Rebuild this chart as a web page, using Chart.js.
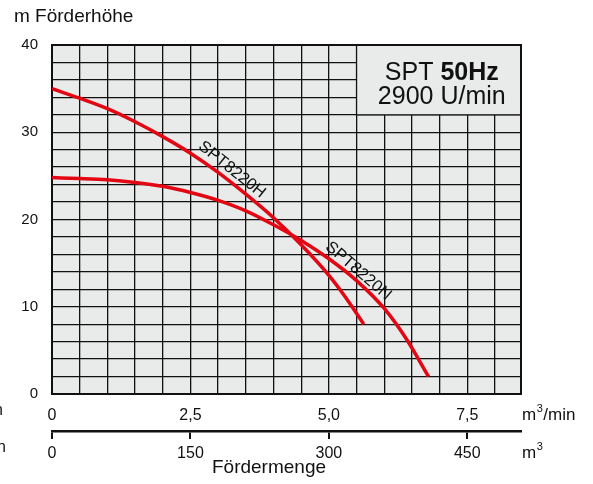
<!DOCTYPE html>
<html>
<head>
    <title>SPT 50Hz Kennlinie</title>
    <script src="https://cdn.jsdelivr.net/npm/chart.js"></script>
    <style>
        body { margin: 0; background: #fff; }
    </style>
</head>
<body>
    <canvas id="pumpChart" width="593" height="484"></canvas>
    <script>
        // Kennlinien (Förderstrom m3/min -> Förderhöhe m)
        var flowH = [0, 0.5, 1.0, 1.5, 2.0, 2.5, 3.0, 3.5, 4.0, 4.5, 5.0, 5.3, 5.63];
        var headH = [35.0, 33.9, 32.7, 31.2, 29.5, 27.6, 25.4, 22.9, 20.2, 17.1, 13.6, 11.1, 8.0];
        var flowN = [0, 0.5, 1.0, 1.5, 2.0, 2.5, 3.0, 3.5, 4.0, 4.5, 5.0, 5.5, 6.0, 6.4, 6.8];
        var headN = [24.8, 24.7, 24.55, 24.25, 23.8, 23.1, 22.2, 21.0, 19.4, 17.6, 15.5, 13.0, 9.8, 6.3, 2.0];

        var minLabels = { 0: '0', 2.5: '2,5', 5: '5,0', 7.5: '7,5' };
        var headLabels = [0, 10, 20, 30, 40];
        var curveNames = ['SPT8220H', 'SPT8220N'];

        var red = '#e30613';
        var font = "'Liberation Sans', Arial, sans-serif";

        function points(xs, ys) {
            return xs.map(function(x, i) { return { x: x, y: ys[i] }; });
        }

        // Einheit mit hochgestellter 3
        function unit(ctx, tail, x, y) {
            ctx.font = '17px ' + font;
            ctx.fillText('m', x, y);
            var w = ctx.measureText('m').width;
            ctx.font = '11px ' + font;
            ctx.fillText('3', x + w + 0.5, y - 6);
            var w3 = ctx.measureText('3').width;
            if (tail) {
                ctx.font = '17px ' + font;
                ctx.fillText(tail, x + w + w3 + 1, y);
            }
        }

        // Hintergrund, Rahmen, Infokasten und Texte
        var decor = {
            id: 'decor',
            beforeDraw: function(chart) {
                var a = chart.chartArea, ctx = chart.ctx;
                ctx.save();
                ctx.fillStyle = '#e9ebea';
                ctx.fillRect(a.left, a.top, a.right - a.left, a.bottom - a.top);
                ctx.restore();
            },
            beforeDatasetsDraw: function(chart) {
                var a = chart.chartArea, ctx = chart.ctx;
                var xs = chart.scales.x, ys = chart.scales.y;
                var bx = xs.getPixelForValue(5.5), by = ys.getPixelForValue(32);
                ctx.save();
                ctx.fillStyle = '#e9ebea';
                ctx.fillRect(bx, a.top, a.right - bx, by - a.top);
                ctx.strokeStyle = '#111';
                ctx.lineWidth = 1.3;
                ctx.beginPath();
                ctx.moveTo(bx, a.top);
                ctx.lineTo(bx, by);
                ctx.lineTo(a.right, by);
                ctx.stroke();
                ctx.lineWidth = 2;
                ctx.strokeRect(a.left, a.top, a.right - a.left, a.bottom - a.top);

                ctx.fillStyle = '#111';
                ctx.textBaseline = 'alphabetic';
                ctx.font = '25px ' + font;
                var w1 = ctx.measureText('SPT ').width;
                ctx.font = 'bold 25px ' + font;
                var w2 = ctx.measureText('50Hz').width;
                var cx = (bx + a.right) / 2 + 3;
                var sx = cx - (w1 + w2) / 2;
                ctx.font = '25px ' + font;
                ctx.fillText('SPT ', sx, 80);
                ctx.font = 'bold 25px ' + font;
                ctx.fillText('50Hz', sx + w1, 80);
                ctx.font = '25px ' + font;
                ctx.textAlign = 'center';
                ctx.fillText('2900 U/min', cx, 104);
                ctx.restore();
            },
            afterDraw: function(chart) {
                var ctx = chart.ctx;
                var xs = chart.scales.x, ys = chart.scales.y;
                ctx.save();
                ctx.fillStyle = '#111';
                ctx.textBaseline = 'middle';

                ctx.font = '19px ' + font;
                ctx.textAlign = 'left';
                ctx.fillText('m Förderhöhe', 14, 17);

                unit(ctx, '/min', 522, 415);
                unit(ctx, '', 522, 453);

                ctx.font = '16px ' + font;
                ctx.textAlign = 'right';
                ctx.fillText('n', 3, 411);
                ctx.fillText('n', 6, 448);

                ctx.font = '19px ' + font;
                ctx.textAlign = 'center';
                ctx.fillText('Fördermenge', 269, 468);

                // Kurvenbeschriftungen
                var labels = [[3.25, 25.7, 38.7], [5.53, 14.1, 40.5]];
                ctx.font = '16.5px ' + font;
                labels.forEach(function(l, i) {
                    ctx.save();
                    ctx.translate(xs.getPixelForValue(l[0]), ys.getPixelForValue(l[1]));
                    ctx.rotate(l[2] * Math.PI / 180);
                    ctx.fillText(curveNames[i], 0, 0);
                    ctx.restore();
                });
                ctx.restore();
            }
        };

        var ctx = document.getElementById('pumpChart').getContext('2d');
        new Chart(ctx, {
            type: 'line',
            data: {
                datasets: [{
                    label: curveNames[0],
                    data: points(flowH, headH),
                    borderColor: red,
                    borderWidth: 3.5,
                    pointRadius: 0,
                    cubicInterpolationMode: 'monotone'
                }, {
                    label: curveNames[1],
                    data: points(flowN, headN),
                    borderColor: red,
                    borderWidth: 3.5,
                    pointRadius: 0,
                    cubicInterpolationMode: 'monotone'
                }]
            },
            options: {
                responsive: false,
                animation: false,
                layout: { padding: { left: 0, right: 72, top: 45, bottom: 0 } },
                plugins: { legend: { display: false }, tooltip: { enabled: false } },
                scales: {
                    x: {
                        type: 'linear',
                        position: 'bottom',
                        weight: 0,
                        min: 0,
                        max: 8.47,
                        afterFit: function(s) { s.height = 37; },
                        grid: { color: '#111', lineWidth: 1.3, drawTicks: false },
                        border: { display: false },
                        ticks: {
                            stepSize: 0.5,
                            includeBounds: false,
                            autoSkip: false,
                            maxRotation: 0,
                            padding: 12,
                            color: '#111',
                            font: { family: font, size: 16 },
                            callback: function(v) {
                                return minLabels[v] !== undefined ? minLabels[v] : '';
                            }
                        }
                    },
                    x2: {
                        type: 'linear',
                        position: 'bottom',
                        weight: 1,
                        min: 0,
                        max: 8.47 * 60,
                        afterFit: function(s) { s.height = 53; },
                        grid: { drawOnChartArea: false, color: '#111', lineWidth: 2, tickLength: 8 },
                        border: { display: true, color: '#111', width: 2.5 },
                        ticks: {
                            stepSize: 150,
                            includeBounds: false,
                            autoSkip: false,
                            maxRotation: 0,
                            padding: 5,
                            color: '#111',
                            font: { family: font, size: 16 }
                        }
                    },
                    y: {
                        min: 0,
                        max: 40,
                        afterFit: function(s) { s.width = 52; },
                        grid: { color: '#111', lineWidth: 1.3, drawTicks: false },
                        border: { display: false },
                        ticks: {
                            stepSize: 2,
                            autoSkip: false,
                            padding: 14,
                            color: '#111',
                            font: { family: font, size: 15 },
                            callback: function(v) {
                                return headLabels.indexOf(v) >= 0 ? String(v) : '';
                            }
                        }
                    }
                }
            },
            plugins: [decor]
        });
    </script>
</body>
</html>
